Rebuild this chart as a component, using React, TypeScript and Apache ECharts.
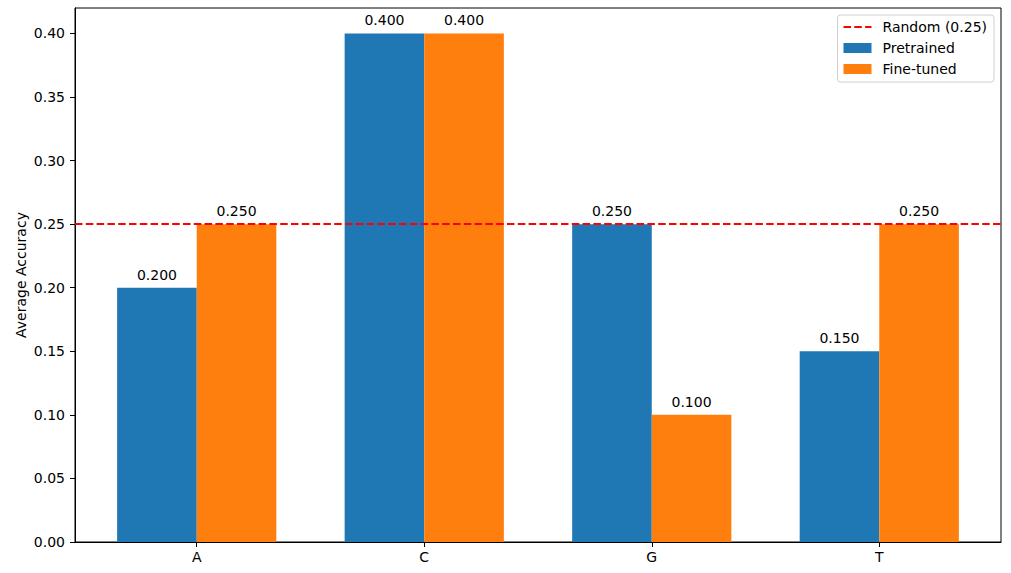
import React, { useEffect, useRef } from "react";
import * as echarts from "echarts";

const categories = ["A", "C", "G", "T"];
const pretrained = [0.2, 0.4, 0.25, 0.15];
const fineTuned = [0.25, 0.4, 0.1, 0.25];
const randomLevel = 0.25;
const yTicks = [0, 0.05, 0.1, 0.15, 0.2, 0.25, 0.3, 0.35, 0.4];
const xPositions = [0, 1, 2, 3];

const FONT = "DejaVu Sans";

export default function App() {
  const ref = useRef<HTMLDivElement>(null);
  useEffect(() => {
    if (!ref.current) return;
    const chart = echarts.init(ref.current, null, { renderer: "svg" });
    const labelCfg = {
      show: true,
      position: "top",
      distance: 6,
      color: "#000",
      fontSize: 14,
      fontFamily: FONT,
      formatter: (p: any) => Number(p.value[1]).toFixed(3),
    };
    chart.setOption({
      animation: false,
      textStyle: { fontFamily: FONT },
      grid: {
        left: 75,
        right: 10,
        top: 8,
        bottom: 31,
        show: true,
        borderColor: "#000",
        borderWidth: 1,
        backgroundColor: "transparent",
      },
      legend: {
        orient: "vertical",
        right: 17,
        top: 15,
        itemWidth: 28,
        itemHeight: 10,
        itemGap: 7,
        padding: [5, 7, 6, 5],
        borderColor: "#d0d0d0",
        borderWidth: 1,
        borderRadius: 3,
        backgroundColor: "rgba(255,255,255,0.8)",
        textStyle: { fontSize: 14, fontFamily: FONT, color: "#000", padding: [0, 0, 0, 6] },
        data: [
          { name: "Random (0.25)", itemStyle: { opacity: 0, color: "transparent", borderWidth: 0 } },
          { name: "Pretrained", icon: "rect" },
          { name: "Fine-tuned", icon: "rect" },
        ],
      },
      xAxis: {
        type: "value",
        min: -0.535,
        max: 3.535,
        splitLine: { show: false },
        axisLine: { show: true, onZero: false, lineStyle: { color: "#000", width: 1 } },
        axisTick: { show: true, length: 5, customValues: xPositions, lineStyle: { color: "#000" } },
        axisLabel: {
          customValues: xPositions,
          margin: 8,
          fontSize: 14,
          color: "#000",
          fontFamily: FONT,
          formatter: (v: number) => categories[Math.round(v)] ?? "",
        },
      },
      yAxis: {
        type: "value",
        min: 0,
        max: 0.42,
        interval: 0.05,
        name: "Average Accuracy",
        nameLocation: "middle",
        nameGap: 47,
        nameMoveOverlap: false,
        nameTextStyle: { fontSize: 14, color: "#000", fontFamily: FONT },
        splitLine: { show: false },
        axisLine: { show: true, onZero: false, lineStyle: { color: "#000", width: 1 } },
        axisTick: { show: true, length: 5, customValues: yTicks, lineStyle: { color: "#000" } },
        axisLabel: {
          customValues: yTicks,
          margin: 10,
          fontSize: 14,
          color: "#000",
          fontFamily: FONT,
          formatter: (v: number) => v.toFixed(2),
        },
      },
      series: [
        {
          name: "Random (0.25)",
          type: "line",
          data: [],
          symbol: "none",
          color: "#ff0000",
          lineStyle: { color: "#ff0000", width: 2, type: [7.5, 3.3] },
          markLine: {
            silent: true,
            symbol: "none",
            label: { show: false },
            lineStyle: { color: "#ff0000", width: 2, type: [7.5, 3.3] },
            data: [{ yAxis: randomLevel }],
            z: 10,
          },
          z: 10,
        },
        {
          name: "Pretrained",
          type: "bar",
          data: xPositions.map((x, i) => [x, pretrained[i]]),
          barWidth: 79.6,
          barGap: "0%",
          color: "#1f77b4",
          itemStyle: { color: "#1f77b4" },
          label: labelCfg,
        },
        {
          name: "Fine-tuned",
          type: "bar",
          data: xPositions.map((x, i) => [x, fineTuned[i]]),
          barWidth: 79.6,
          barGap: "0%",
          color: "#ff7f0e",
          itemStyle: { color: "#ff7f0e" },
          label: labelCfg,
        },
      ],
    });
    return () => chart.dispose();
  }, []);
  return (
    <div
      ref={ref}
      style={{ position: "fixed", left: 0, top: 0, width: 1011, height: 573, background: "#fff" }}
    />
  );
}
